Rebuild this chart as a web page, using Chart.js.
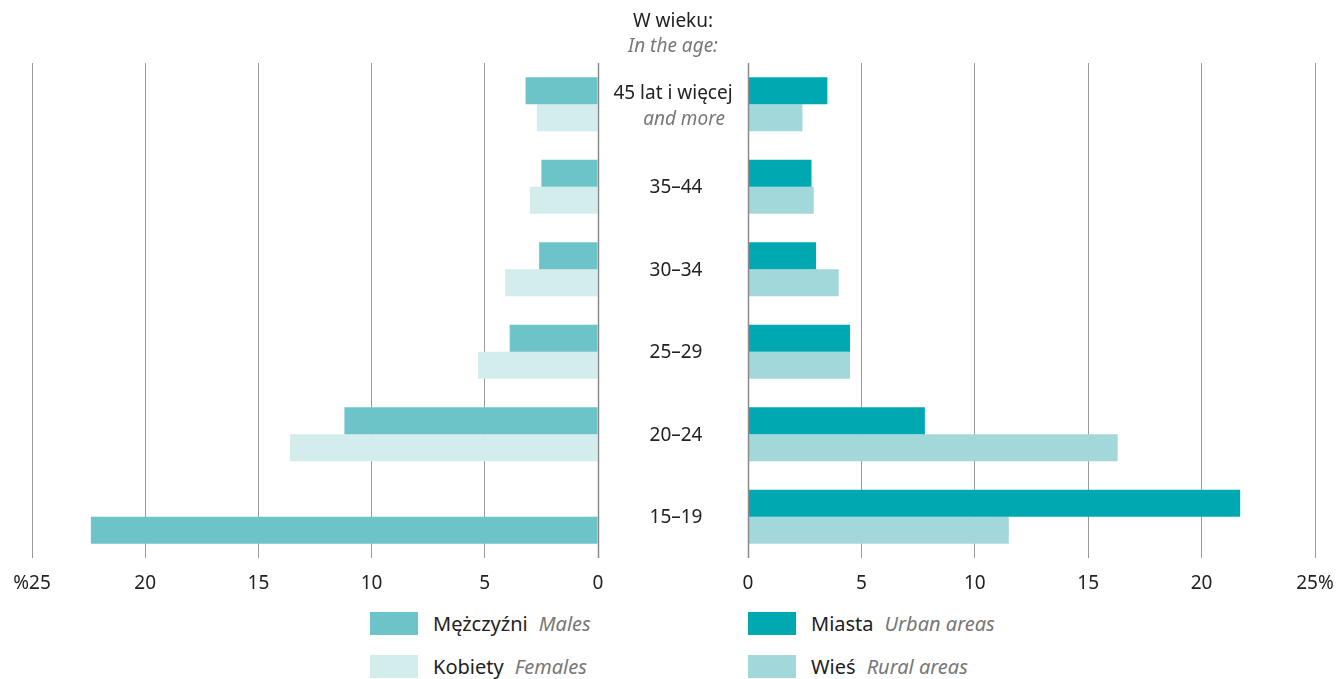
<!DOCTYPE html>
<html>
<head>
<meta charset="utf-8">
<script src="https://cdn.jsdelivr.net/npm/chart.js@4"></script>
<style>
    body { margin: 0; background: #fff; font-family: 'Noto Sans', sans-serif; }
    #page { position: relative; width: 1337px; height: 679px; overflow: hidden; }
    .box { position: absolute; top: 0; height: 600px; }
    .legend-item { position: absolute; height: 23px; display: flex; align-items: center; font-size: 20px; color: #222; white-space: nowrap; }
    .legend-item .sw { width: 48px; height: 23px; margin-right: 15px; }
    .legend-item i { color: #777; margin-left: 11px; }
</style>
</head>
<body>
<div id="page">
    <div class="box" style="left:0; width:750px;"><canvas id="leftChart"></canvas></div>
    <div class="box" style="left:716px; width:621px;"><canvas id="rightChart"></canvas></div>

    <div class="legend-item" style="left:370px; top:612px;"><span class="sw" style="background:#6cc4c8"></span>Mężczyźni<i>Males</i></div>
    <div class="legend-item" style="left:370px; top:655px;"><span class="sw" style="background:#d3ecec"></span>Kobiety<i>Females</i></div>
    <div class="legend-item" style="left:748px; top:612px;"><span class="sw" style="background:#00a9b2"></span>Miasta<i>Urban areas</i></div>
    <div class="legend-item" style="left:748px; top:655px;"><span class="sw" style="background:#a3d8db"></span>Wieś<i>Rural areas</i></div>
</div>

<script>
// Data (percent), age groups from the top row down
const ageGroups = ['45+', '35–44', '30–34', '25–29', '20–24', '15–19'];
const ageLabelsPl = ['45 lat i więcej', '35–44', '30–34', '25–29', '20–24', '15–19'];
const ageLabelsEn = ['and more', '', '', '', '', ''];

const males = [3.2, 2.5, 2.6, 3.9, 11.2, null];
const females = [2.7, 3.0, 4.1, 5.3, 13.6, 22.4];
const urban = [3.5, 2.8, 3.0, 4.5, 7.8, 21.7];
const rural = [2.4, 2.9, 4.0, 4.5, 16.3, 11.5];

const tickValues = [0, 5, 10, 15, 20, 25];
const leftTicks = ['0', '5', '10', '15', '20', '%25'];
const rightTicks = ['0', '5', '10', '15', '20', '25%'];

// Colours
const cMales = '#6cc4c8';
const cFemales = '#d3ecec';
const cUrban = '#00a9b2';
const cRural = '#a3d8db';
// the 15-19 bar in the lower slot is drawn in the males colour in the original
const femaleColors = [cFemales, cFemales, cFemales, cFemales, cFemales, cMales];

const FONT = "'Noto Sans', sans-serif";
const TEXT = '#222';
const GREY_TEXT = '#777';

// Draws tick labels, the 0 line on top of the bars and (left chart) the centre labels
function makeOverlay(tickLabels, withCentre) {
    return {
        id: 'overlay',
        afterDatasetsDraw(chart) {
            const ctx = chart.ctx;
            const x = chart.scales.x;
            const area = chart.chartArea;
            ctx.save();
            ctx.strokeStyle = '#8a8a8a';
            ctx.lineWidth = 1.5;
            const x0 = Math.round(x.getPixelForValue(0)) + 0.5;
            ctx.beginPath();
            ctx.moveTo(x0, area.top);
            ctx.lineTo(x0, area.bottom);
            ctx.stroke();
            ctx.restore();
        },
        afterDraw(chart) {
            const ctx = chart.ctx;
            const x = chart.scales.x;
            const y = chart.scales.y;
            const area = chart.chartArea;
            ctx.save();
            ctx.fillStyle = TEXT;
            ctx.font = '19px ' + FONT;
            ctx.textAlign = 'center';
            ctx.textBaseline = 'middle';
            tickValues.forEach((v, i) => {
                ctx.fillText(tickLabels[i], x.getPixelForValue(v), area.bottom + 26);
            });
            if (withCentre) {
                const cx = 673;
                ctx.fillText('W wieku:', cx, 22);
                ctx.fillStyle = GREY_TEXT;
                ctx.font = 'italic 19px ' + FONT;
                ctx.fillText('In the age:', cx, 47);
                ageGroups.forEach((g, i) => {
                    const py = y.getPixelForValue(i);
                    if (ageLabelsEn[i]) {
                        ctx.fillStyle = TEXT;
                        ctx.font = '19px ' + FONT;
                        ctx.fillText(ageLabelsPl[i], cx, py - 11);
                        ctx.fillStyle = GREY_TEXT;
                        ctx.font = 'italic 19px ' + FONT;
                        ctx.fillText(ageLabelsEn[i], cx + 11, py + 15);
                    } else {
                        ctx.fillStyle = TEXT;
                        ctx.font = '19px ' + FONT;
                        ctx.fillText(ageLabelsPl[i], cx + 3, py + 1);
                    }
                });
            }
            ctx.restore();
        }
    };
}

function baseOptions(reverse, padding) {
    return {
        indexAxis: 'y',
        responsive: true,
        maintainAspectRatio: false,
        animation: false,
        layout: { padding: padding },
        plugins: { legend: { display: false }, tooltip: { enabled: false } },
        scales: {
            x: {
                min: 0,
                max: 25,
                reverse: reverse,
                afterBuildTicks: (scale) => { scale.ticks = tickValues.map(v => ({ value: v })); },
                ticks: { display: false },
                border: { display: false },
                grid: { color: '#9a9a9a', lineWidth: 1, drawTicks: false }
            },
            y: { display: false }
        },
        datasets: { bar: { categoryPercentage: 0.656, barPercentage: 1.0 } }
    };
}

new Chart(document.getElementById('leftChart'), {
    type: 'bar',
    data: {
        labels: ageGroups,
        datasets: [
            { label: 'Mężczyźni', data: males, backgroundColor: cMales },
            { label: 'Kobiety', data: females, backgroundColor: femaleColors }
        ]
    },
    options: baseOptions(true, { left: 32, right: 152, top: 63, bottom: 42 }),
    plugins: [makeOverlay(leftTicks, true)]
});

new Chart(document.getElementById('rightChart'), {
    type: 'bar',
    data: {
        labels: ageGroups,
        datasets: [
            { label: 'Miasta', data: urban, backgroundColor: cUrban },
            { label: 'Wieś', data: rural, backgroundColor: cRural }
        ]
    },
    options: baseOptions(false, { left: 32, right: 22, top: 63, bottom: 42 }),
    plugins: [makeOverlay(rightTicks, false)]
});
</script>
</body>
</html>
